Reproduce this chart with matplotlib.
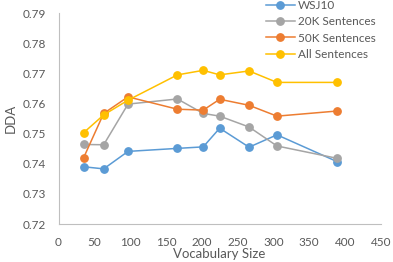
import matplotlib
matplotlib.use('Agg')
import matplotlib.pyplot as plt

plt.rcParams['font.family'] = ['Lato', 'DejaVu Sans']

vocab_size = [35, 63, 97, 166, 202, 225, 266, 305, 389]
wsj10 = [0.7390, 0.7383, 0.7441, 0.7451, 0.7456, 0.7518, 0.7455, 0.7496, 0.7407]
sent_20k = [0.7464, 0.7463, 0.7598, 0.7615, 0.7567, 0.7558, 0.7522, 0.7459, 0.7418]
sent_50k = [0.7420, 0.7567, 0.7622, 0.7581, 0.7578, 0.7614, 0.7594, 0.7558, 0.7575]
sent_all = [0.7503, 0.7562, 0.7611, 0.7695, 0.7710, 0.7695, 0.7708, 0.7670, 0.7670]

series = [('WSJ10', wsj10, '#5B9BD5'),
          ('20K Sentences', sent_20k, '#A5A5A5'),
          ('50K Sentences', sent_50k, '#ED7D31'),
          ('All Sentences', sent_all, '#FFC000')]

fig = plt.figure(figsize=(3.93, 2.62), dpi=100)
ax = fig.add_axes([0.149, 0.145, 0.82, 0.805])

for name, vals, col in series:
    ax.plot(vocab_size, vals, color=col, lw=1.1, marker='o', markersize=5.3, label=name)

ax.set_xlim(0, 450)
ax.set_ylim(0.72, 0.79)
ax.set_xticks(range(0, 451, 50))
ax.set_yticks([0.72, 0.73, 0.74, 0.75, 0.76, 0.77, 0.78, 0.79])
ax.set_yticklabels(['0.72', '0.73', '0.74', '0.75', '0.76', '0.77', '0.78', '0.79'])
ax.tick_params(length=0, labelsize=8.5, colors='#595959')
ax.tick_params(axis='x', pad=9)
ax.tick_params(axis='y', pad=9)
for s in ['top', 'right']:
    ax.spines[s].set_visible(False)
for s in ['left', 'bottom']:
    ax.spines[s].set_color('#BFBFBF')
    ax.spines[s].set_linewidth(0.8)

ax.set_xlabel('Vocabulary Size', fontsize=9.5, color='#595959', labelpad=0)
ax.set_ylabel('DDA', fontsize=9.5, color='#595959', labelpad=4)

leg = ax.legend(loc='upper left', bbox_to_anchor=(0.63, 1.085), frameon=False,
                fontsize=8.5, labelspacing=0.45, handlelength=2.4, handletextpad=0.3,
                borderaxespad=0)
for t in leg.get_texts():
    t.set_color('#595959')

fig.savefig('out.png', dpi=100)
